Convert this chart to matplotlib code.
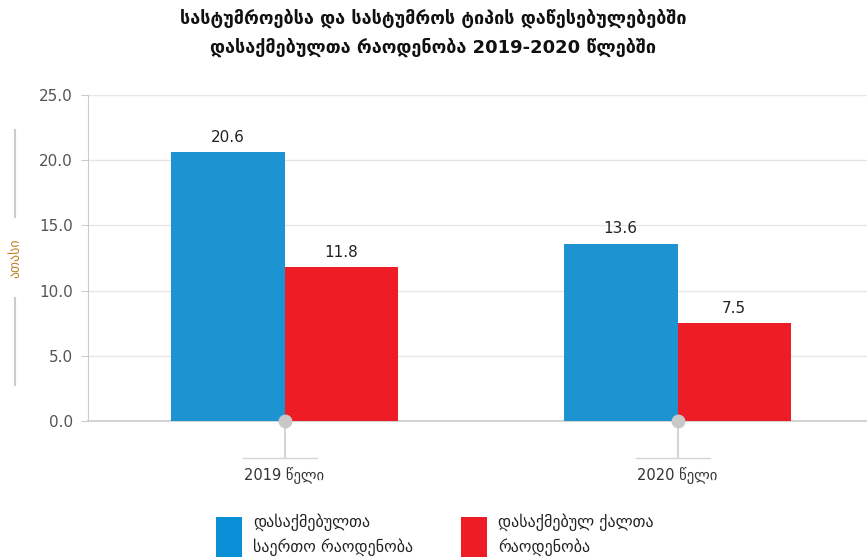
import matplotlib
matplotlib.use("Agg")
import matplotlib.pyplot as plt
from matplotlib.patches import Rectangle
from matplotlib.lines import Line2D
import matplotlib.transforms as mtransforms

plt.rcParams['font.family'] = ['DejaVu Sans']

title_lines = ["სასტუმროებსა და სასტუმროს ტიპის დაწესებულებებში",
               "დასაქმებულთა რაოდენობა 2019-2020 წლებში"]
categories = ["2019 წელი", "2020 წელი"]
series_names = ["დასაქმებულთა\nსაერთო რაოდენობა", "დასაქმებულ ქალთა\nრაოდენობა"]
total_employed = [20.6, 13.6]
women_employed = [11.8, 7.5]
y_label = "ათასი"
y_ticks = [0, 5, 10, 15, 20, 25]

blue = "#1E93D2"
red = "#EE1D25"
legend_blue = "#0A8FD6"

fig = plt.figure(figsize=(8.67, 5.57), dpi=100)
ax = fig.add_axes([88/867, 136/557, 786/867, 326/557])

x = list(range(len(categories)))
w = 0.289
ax.bar([i - w/2 for i in x], total_employed, width=w, color=blue, zorder=3)
ax.bar([i + w/2 for i in x], women_employed, width=w, color=red, zorder=3)

for i, v in zip(x, total_employed):
    ax.text(i - w/2, v + 0.55, f"{v:.1f}", ha="center", va="bottom", fontsize=11, color="#222222")
for i, v in zip(x, women_employed):
    ax.text(i + w/2, v + 0.55, f"{v:.1f}", ha="center", va="bottom", fontsize=11, color="#222222")

ax.set_xlim(-0.5, 1.5)
ax.set_ylim(0, 25)
ax.set_yticks(y_ticks)
ax.set_yticklabels([f"{t:.1f}" for t in y_ticks], fontsize=11, color="#555555")
ax.tick_params(axis="y", length=5, color="#cccccc", pad=6)
ax.set_xticks([])
ax.grid(axis="y", color="#e6e6e6", linewidth=1, zorder=0)
for s in ["top", "right"]:
    ax.spines[s].set_visible(False)
ax.spines["left"].set_color("#cccccc")
ax.spines["bottom"].set_color("#cccccc")
ax.spines["bottom"].set_linewidth(1.2)

# category markers below the axis
trans = mtransforms.blended_transform_factory(ax.transData, ax.transAxes)
px = 1 / 326  # one pixel in axes-height units
for i, cat in zip(x, categories):
    ax.add_line(Line2D([i, i], [0, -37 * px], transform=trans, color="#d5d5d5",
                       linewidth=1.5, clip_on=False, zorder=4))
    ax.add_line(Line2D([i - 42/786*2, i + 32/786*2], [-37 * px, -37 * px], transform=trans,
                       color="#d5d5d5", linewidth=1, clip_on=False, zorder=4))
    ax.plot([i], [0], transform=trans, marker="o", markersize=9, color="#c8c8c8",
            clip_on=False, zorder=5)
    ax.text(i, -46 * px, cat, transform=trans, ha="center", va="top", fontsize=10.5, color="#333333")

# y-axis label with rules above and below
fig.text(15/867, 1 - 258/557, y_label, rotation=90, ha="center", va="center",
         fontsize=10, color="#C5832E")
fig.add_artist(Line2D([15/867, 15/867], [1 - 130/557, 1 - 217/557], color="#cccccc", linewidth=1.5))
fig.add_artist(Line2D([15/867, 15/867], [1 - 298/557, 1 - 385/557], color="#cccccc", linewidth=1.5))

# title
fig.text(0.5, 1 - 18/557, title_lines[0], ha="center", va="center", fontsize=13,
         fontweight="bold", color="#111111")
fig.text(0.5, 1 - 47/557, title_lines[1], ha="center", va="center", fontsize=13,
         fontweight="bold", color="#111111")

# legend
for x0, color, label in [(216, legend_blue, series_names[0]), (461, red, series_names[1])]:
    fig.add_artist(Rectangle((x0/867, 0), 26/867, 40/557, transform=fig.transFigure,
                             facecolor=color, edgecolor="none"))
    fig.text((x0 + 37)/867, 1 - 513/557, label, ha="left", va="top", fontsize=11.5,
             color="#222222", linespacing=1.55)

fig.savefig("out.png", dpi=100)
